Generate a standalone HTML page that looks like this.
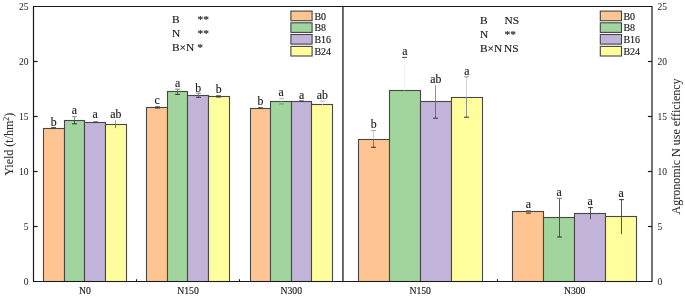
<!DOCTYPE html>
<html><head><meta charset="utf-8"><style>
html,body{margin:0;padding:0;background:#fff;width:685px;height:297px;overflow:hidden;}
svg{display:block;font-family:"Liberation Serif",serif;will-change:transform;}
text{fill:#1a1a1a;stroke:#1a1a1a;stroke-width:0.15px;} text.t{stroke-width:0.05px;fill:#2a2a2a;stroke:#2a2a2a;}
</style></head><body><svg width="685" height="297" viewBox="0 0 685 297" font-family='"Liberation Serif", serif'><rect x="0" y="0" width="685" height="297" fill="#fff"/><rect x="43.50" y="128.50" width="21.00" height="153.00" fill="#FEC592" stroke="#474747" stroke-width="1.1"/><rect x="64.50" y="120.50" width="20.00" height="161.00" fill="#A1D59D" stroke="#474747" stroke-width="1.1"/><rect x="84.50" y="122.50" width="21.00" height="159.00" fill="#C2B4D8" stroke="#474747" stroke-width="1.1"/><rect x="105.50" y="124.50" width="21.00" height="157.00" fill="#FFFE9C" stroke="#474747" stroke-width="1.1"/><rect x="146.50" y="107.50" width="21.00" height="174.00" fill="#FEC592" stroke="#474747" stroke-width="1.1"/><rect x="167.50" y="91.50" width="20.00" height="190.00" fill="#A1D59D" stroke="#474747" stroke-width="1.1"/><rect x="187.50" y="95.50" width="21.00" height="186.00" fill="#C2B4D8" stroke="#474747" stroke-width="1.1"/><rect x="208.50" y="96.50" width="21.00" height="185.00" fill="#FFFE9C" stroke="#474747" stroke-width="1.1"/><rect x="250.50" y="108.50" width="20.00" height="173.00" fill="#FEC592" stroke="#474747" stroke-width="1.1"/><rect x="270.50" y="101.50" width="21.00" height="180.00" fill="#A1D59D" stroke="#474747" stroke-width="1.1"/><rect x="291.50" y="101.50" width="20.00" height="180.00" fill="#C2B4D8" stroke="#474747" stroke-width="1.1"/><rect x="311.50" y="104.50" width="21.00" height="177.00" fill="#FFFE9C" stroke="#474747" stroke-width="1.1"/><rect x="358.50" y="139.50" width="31.00" height="142.00" fill="#FEC592" stroke="#474747" stroke-width="1.1"/><rect x="389.50" y="90.50" width="31.00" height="191.00" fill="#A1D59D" stroke="#474747" stroke-width="1.1"/><rect x="420.50" y="101.50" width="31.00" height="180.00" fill="#C2B4D8" stroke="#474747" stroke-width="1.1"/><rect x="451.50" y="97.50" width="31.00" height="184.00" fill="#FFFE9C" stroke="#474747" stroke-width="1.1"/><rect x="512.50" y="211.50" width="31.00" height="70.00" fill="#FEC592" stroke="#474747" stroke-width="1.1"/><rect x="543.50" y="217.50" width="31.00" height="64.00" fill="#A1D59D" stroke="#474747" stroke-width="1.1"/><rect x="574.50" y="213.50" width="31.00" height="68.00" fill="#C2B4D8" stroke="#474747" stroke-width="1.1"/><rect x="605.50" y="216.50" width="31.00" height="65.00" fill="#FFFE9C" stroke="#474747" stroke-width="1.1"/><line x1="51.10" y1="127.70" x2="55.90" y2="127.70" stroke="#3a3a3a" stroke-width="1.1"/><text x="53.75" y="125.60" text-anchor="middle" font-size="11.8">b</text><line x1="74.50" y1="116.60" x2="74.50" y2="120.30" stroke="#777" stroke-width="0.9"/><line x1="74.50" y1="120.30" x2="74.50" y2="123.80" stroke="#444" stroke-width="0.9"/><line x1="72.10" y1="116.60" x2="76.90" y2="116.60" stroke="#999" stroke-width="1.1"/><line x1="72.10" y1="123.80" x2="76.90" y2="123.80" stroke="#3a3a3a" stroke-width="1.1"/><text x="74.45" y="114.20" text-anchor="middle" font-size="11.8">a</text><line x1="93.10" y1="122.00" x2="97.90" y2="122.00" stroke="#3a3a3a" stroke-width="1.1"/><text x="95.15" y="118.10" text-anchor="middle" font-size="11.8">a</text><line x1="115.50" y1="120.20" x2="115.50" y2="124.40" stroke="#999" stroke-width="0.9"/><line x1="115.50" y1="124.40" x2="115.50" y2="128.20" stroke="#666" stroke-width="0.9"/><text x="115.85" y="117.70" text-anchor="middle" font-size="11.8">ab</text><line x1="155.10" y1="106.90" x2="159.90" y2="106.90" stroke="#3a3a3a" stroke-width="1.1"/><line x1="155.10" y1="108.00" x2="159.90" y2="108.00" stroke="#3a3a3a" stroke-width="1.1"/><text x="157.00" y="103.70" text-anchor="middle" font-size="11.8">c</text><line x1="177.50" y1="89.20" x2="177.50" y2="91.50" stroke="#777" stroke-width="0.9"/><line x1="177.50" y1="91.50" x2="177.50" y2="94.40" stroke="#555" stroke-width="0.9"/><line x1="175.10" y1="89.20" x2="179.90" y2="89.20" stroke="#888" stroke-width="1.1"/><line x1="175.10" y1="94.40" x2="179.90" y2="94.40" stroke="#3a3a3a" stroke-width="1.1"/><text x="177.60" y="86.80" text-anchor="middle" font-size="11.8">a</text><line x1="198.50" y1="93.20" x2="198.50" y2="95.30" stroke="#888" stroke-width="0.9"/><line x1="198.50" y1="95.30" x2="198.50" y2="97.30" stroke="#666" stroke-width="0.9"/><line x1="196.10" y1="93.20" x2="200.90" y2="93.20" stroke="#888" stroke-width="1.1"/><line x1="196.10" y1="97.30" x2="200.90" y2="97.30" stroke="#3a3a3a" stroke-width="1.1"/><text x="198.20" y="91.90" text-anchor="middle" font-size="11.8">b</text><line x1="216.10" y1="95.90" x2="220.90" y2="95.90" stroke="#3a3a3a" stroke-width="1.1"/><line x1="216.10" y1="97.00" x2="220.90" y2="97.00" stroke="#3a3a3a" stroke-width="1.1"/><text x="218.80" y="92.80" text-anchor="middle" font-size="11.8">b</text><line x1="258.10" y1="107.80" x2="262.90" y2="107.80" stroke="#3a3a3a" stroke-width="1.1"/><text x="260.41" y="104.60" text-anchor="middle" font-size="11.8">b</text><line x1="281.50" y1="98.40" x2="281.50" y2="101.50" stroke="#e6e6e6" stroke-width="0.9"/><line x1="279.10" y1="98.40" x2="283.90" y2="98.40" stroke="#bbb" stroke-width="1.1"/><line x1="279.10" y1="103.90" x2="283.90" y2="103.90" stroke="#8a8f8a" stroke-width="1.1"/><text x="281.03" y="95.50" text-anchor="middle" font-size="11.8">a</text><line x1="299.10" y1="101.00" x2="303.90" y2="101.00" stroke="#3a3a3a" stroke-width="1.1"/><text x="301.65" y="98.80" text-anchor="middle" font-size="11.8">a</text><line x1="322.50" y1="101.10" x2="322.50" y2="104.60" stroke="#e6e6e6" stroke-width="0.9"/><line x1="320.10" y1="101.10" x2="324.90" y2="101.10" stroke="#bbb" stroke-width="1.1"/><text x="322.27" y="98.80" text-anchor="middle" font-size="11.8">ab</text><line x1="373.50" y1="130.50" x2="373.50" y2="139.20" stroke="#c8c8c8" stroke-width="0.9"/><line x1="373.50" y1="139.20" x2="373.50" y2="147.30" stroke="#7a6a5a" stroke-width="0.9"/><line x1="371.10" y1="130.50" x2="375.90" y2="130.50" stroke="#aaa" stroke-width="1.1"/><line x1="371.10" y1="147.30" x2="375.90" y2="147.30" stroke="#3a3a3a" stroke-width="1.1"/><text x="373.80" y="128.10" text-anchor="middle" font-size="11.8">b</text><line x1="404.50" y1="57.40" x2="404.50" y2="90.40" stroke="#eee" stroke-width="0.9"/><line x1="402.10" y1="57.40" x2="406.90" y2="57.40" stroke="#555" stroke-width="1.1"/><text x="404.80" y="54.60" text-anchor="middle" font-size="11.8">a</text><line x1="435.50" y1="85.30" x2="435.50" y2="101.60" stroke="#888" stroke-width="0.9"/><line x1="435.50" y1="101.60" x2="435.50" y2="118.20" stroke="#666" stroke-width="0.9"/><line x1="433.10" y1="118.20" x2="437.90" y2="118.20" stroke="#3a3a3a" stroke-width="1.1"/><text x="435.80" y="82.80" text-anchor="middle" font-size="11.8">ab</text><line x1="466.50" y1="76.80" x2="466.50" y2="97.60" stroke="#ccc" stroke-width="0.9"/><line x1="466.50" y1="97.60" x2="466.50" y2="117.20" stroke="#888" stroke-width="0.9"/><line x1="464.10" y1="76.80" x2="468.90" y2="76.80" stroke="#999" stroke-width="1.1"/><line x1="464.10" y1="117.20" x2="468.90" y2="117.20" stroke="#3a3a3a" stroke-width="1.1"/><text x="466.80" y="74.80" text-anchor="middle" font-size="11.8">a</text><line x1="526.10" y1="210.60" x2="530.90" y2="210.60" stroke="#888" stroke-width="1.1"/><line x1="526.10" y1="213.10" x2="530.90" y2="213.10" stroke="#3a3a3a" stroke-width="1.1"/><text x="528.27" y="208.00" text-anchor="middle" font-size="11.8">a</text><line x1="559.50" y1="198.30" x2="559.50" y2="217.40" stroke="#444" stroke-width="0.9"/><line x1="559.50" y1="217.40" x2="559.50" y2="237.00" stroke="#444" stroke-width="0.9"/><line x1="557.10" y1="198.30" x2="561.90" y2="198.30" stroke="#888" stroke-width="1.1"/><line x1="557.10" y1="237.00" x2="561.90" y2="237.00" stroke="#3a3a3a" stroke-width="1.1"/><text x="559.23" y="195.50" text-anchor="middle" font-size="11.8">a</text><line x1="590.50" y1="207.60" x2="590.50" y2="213.30" stroke="#444" stroke-width="0.9"/><line x1="590.50" y1="213.30" x2="590.50" y2="219.30" stroke="#444" stroke-width="0.9"/><line x1="588.10" y1="207.60" x2="592.90" y2="207.60" stroke="#3a3a3a" stroke-width="1.1"/><text x="590.17" y="205.40" text-anchor="middle" font-size="11.8">a</text><line x1="621.50" y1="199.60" x2="621.50" y2="217.00" stroke="#444" stroke-width="0.9"/><line x1="621.50" y1="217.00" x2="621.50" y2="234.10" stroke="#444" stroke-width="0.9"/><line x1="619.10" y1="199.60" x2="623.90" y2="199.60" stroke="#3a3a3a" stroke-width="1.1"/><text x="621.12" y="197.00" text-anchor="middle" font-size="11.8">a</text><path d="M33.5 6.5 H652 V281.5 H33.5 Z" fill="none" stroke="#1a1a1a" stroke-width="1.2"/><line x1="342.95" y1="6" x2="342.95" y2="282" stroke="#1a1a1a" stroke-width="1.3"/><line x1="136.5" y1="279.2" x2="136.5" y2="281.5" stroke="#1a1a1a" stroke-width="1.1"/><line x1="239.5" y1="279.2" x2="239.5" y2="281.5" stroke="#1a1a1a" stroke-width="1.1"/><line x1="497.5" y1="279.2" x2="497.5" y2="281.5" stroke="#1a1a1a" stroke-width="1.1"/><text class="t" x="28.4" y="284.70" text-anchor="end" font-size="9.5">0</text><text class="t" x="657.6" y="284.70" font-size="9.5">0</text><line x1="33.5" y1="226.50" x2="37.6" y2="226.50" stroke="#1a1a1a" stroke-width="1.2"/><line x1="647.9" y1="226.50" x2="652" y2="226.50" stroke="#1a1a1a" stroke-width="1.2"/><text class="t" x="28.4" y="229.70" text-anchor="end" font-size="9.5">5</text><text class="t" x="657.6" y="229.70" font-size="9.5">5</text><line x1="33.5" y1="171.50" x2="37.6" y2="171.50" stroke="#1a1a1a" stroke-width="1.2"/><line x1="647.9" y1="171.50" x2="652" y2="171.50" stroke="#1a1a1a" stroke-width="1.2"/><text class="t" x="28.4" y="174.70" text-anchor="end" font-size="9.5">10</text><text class="t" x="657.6" y="174.70" font-size="9.5">10</text><line x1="33.5" y1="116.50" x2="37.6" y2="116.50" stroke="#1a1a1a" stroke-width="1.2"/><line x1="647.9" y1="116.50" x2="652" y2="116.50" stroke="#1a1a1a" stroke-width="1.2"/><text class="t" x="28.4" y="119.70" text-anchor="end" font-size="9.5">15</text><text class="t" x="657.6" y="119.70" font-size="9.5">15</text><line x1="33.5" y1="61.50" x2="37.6" y2="61.50" stroke="#1a1a1a" stroke-width="1.2"/><line x1="647.9" y1="61.50" x2="652" y2="61.50" stroke="#1a1a1a" stroke-width="1.2"/><text class="t" x="28.4" y="64.70" text-anchor="end" font-size="9.5">20</text><text class="t" x="657.6" y="64.70" font-size="9.5">20</text><text class="t" x="28.4" y="9.70" text-anchor="end" font-size="9.5">25</text><text class="t" x="657.6" y="9.70" font-size="9.5">25</text><text x="85" y="294" text-anchor="middle" font-size="9.7">N0</text><text x="188" y="294" text-anchor="middle" font-size="9.7">N150</text><text x="291.3" y="294" text-anchor="middle" font-size="9.7">N300</text><text x="420.2" y="294" text-anchor="middle" font-size="9.7">N150</text><text x="574.7" y="294" text-anchor="middle" font-size="9.7">N300</text><text class="t" transform="translate(13.1,144.2) rotate(-90)" text-anchor="middle" font-size="12">Yield (t/hm<tspan font-size="8" dy="-4.5">2</tspan><tspan dy="4.5">)</tspan></text><text class="t" transform="translate(679.9,146.5) rotate(-90)" text-anchor="middle" font-size="12">Agronomic N use efficiency</text><text x="172" y="22.8" font-size="11.4">B</text><text x="197.5" y="22.80" font-size="11.4">**</text><text x="172" y="37.0" font-size="11.4">N</text><text x="197.5" y="37.00" font-size="11.4">**</text><text x="172" y="51.2" font-size="11.4">B×N</text><text x="197.3" y="51.20" font-size="11.4">*</text><text x="480" y="23.6" font-size="11.4">B</text><text x="504.5" y="23.60" font-size="11.4">NS</text><text x="480" y="37.8" font-size="11.4">N</text><text x="504.5" y="37.80" font-size="11.4">**</text><text x="480" y="52.0" font-size="11.4">B×N</text><text x="504.0" y="52.00" font-size="11.4">NS</text><rect x="290.9" y="11.1" width="21.2" height="9.6" fill="#FEC592" stroke="#444" stroke-width="1.1"/><text x="314.4" y="19.5" font-size="10">B0</text><rect x="290.9" y="22.8" width="21.2" height="9.6" fill="#A1D59D" stroke="#444" stroke-width="1.1"/><text x="314.4" y="31.200000000000003" font-size="10">B8</text><rect x="290.9" y="34.5" width="21.2" height="9.6" fill="#C2B4D8" stroke="#444" stroke-width="1.1"/><text x="314.4" y="42.9" font-size="10">B16</text><rect x="290.9" y="46.4" width="21.2" height="9.6" fill="#FFFE9C" stroke="#444" stroke-width="1.1"/><text x="314.4" y="54.8" font-size="10">B24</text><rect x="600.3" y="11.1" width="21.2" height="9.6" fill="#FEC592" stroke="#444" stroke-width="1.1"/><text x="623.4" y="19.5" font-size="10">B0</text><rect x="600.3" y="22.8" width="21.2" height="9.6" fill="#A1D59D" stroke="#444" stroke-width="1.1"/><text x="623.4" y="31.200000000000003" font-size="10">B8</text><rect x="600.3" y="34.5" width="21.2" height="9.6" fill="#C2B4D8" stroke="#444" stroke-width="1.1"/><text x="623.4" y="42.9" font-size="10">B16</text><rect x="600.3" y="46.4" width="21.2" height="9.6" fill="#FFFE9C" stroke="#444" stroke-width="1.1"/><text x="623.4" y="54.8" font-size="10">B24</text></svg></body></html>
